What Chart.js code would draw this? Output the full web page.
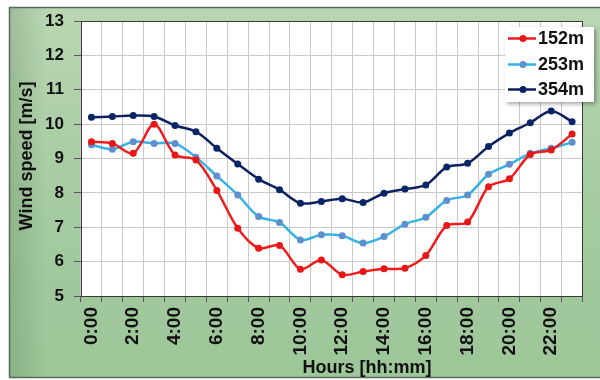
<!DOCTYPE html>
<html>
<head>
<meta charset="utf-8">
<script src="https://cdn.jsdelivr.net/npm/chart.js@4/dist/chart.umd.min.js"></script>
<style>
  html, body { margin: 0; padding: 0; background: #ffffff; }
  #wrap { width: 600px; height: 380px; }
</style>
</head>
<body>
<div id="wrap"><canvas id="c" width="600" height="380"></canvas></div>
<script>
// Hourly categories (every second one is labelled on the axis)
const hourLabels = ['0:00','1:00','2:00','3:00','4:00','5:00','6:00','7:00','8:00','9:00','10:00','11:00',
                    '12:00','13:00','14:00','15:00','16:00','17:00','18:00','19:00','20:00','21:00','22:00','23:00'];

// Mean wind speed [m/s] per hour at three measurement heights
const speed152 = [9.49, 9.44, 9.15, 10.00, 9.10, 8.96, 8.07, 6.97, 6.39, 6.47, 5.78, 6.05,
                  5.62, 5.71, 5.79, 5.81, 6.18, 7.05, 7.15, 8.18, 8.41, 9.12, 9.25, 9.71];
const speed253 = [9.40, 9.27, 9.49, 9.44, 9.44, 9.04, 8.49, 7.94, 7.31, 7.14, 6.63, 6.78,
                  6.75, 6.54, 6.73, 7.09, 7.29, 7.78, 7.94, 8.54, 8.83, 9.15, 9.30, 9.47];
const speed354 = [10.20, 10.22, 10.25, 10.22, 9.96, 9.78, 9.30, 8.84, 8.40, 8.09, 7.70, 7.75,
                  7.83, 7.72, 7.99, 8.11, 8.23, 8.75, 8.86, 9.35, 9.74, 10.04, 10.38, 10.07];

const seriesNames = ['152m', '253m', '354m'];
const yTitle = 'Wind speed [m/s]';
const xTitle = 'Hours [hh:mm]';

const FONT = "'Liberation Sans', Arial, Helvetica, sans-serif";

// Panel background, plot area, frame, axis titles and legend box
const decorations = {
  id: 'decorations',
  beforeDraw(chart) {
    const ctx = chart.ctx;
    const a = chart.chartArea;
    ctx.save();
    ctx.fillStyle = '#ffffff';
    ctx.fillRect(0, 0, chart.width, chart.height);
    const g = ctx.createLinearGradient(0, 7, 0, 378);
    g.addColorStop(0, '#b9d7b2');
    g.addColorStop(0.5, '#a6cba1');
    g.addColorStop(1, '#9dc699');
    ctx.fillStyle = g;
    ctx.fillRect(9, 7, chart.width - 9, 371);
    const g2 = ctx.createLinearGradient(9, 0, 45, 0);
    g2.addColorStop(0, 'rgba(60,100,60,0.22)');
    g2.addColorStop(1, 'rgba(60,100,60,0)');
    ctx.fillStyle = g2;
    ctx.fillRect(9, 7, 36, 371);
    ctx.strokeStyle = '#5a6a5a';
    ctx.lineWidth = 1.5;
    ctx.strokeRect(9.5, 7.5, chart.width, 370);
    ctx.fillStyle = '#ffffff';
    ctx.fillRect(a.left, a.top, a.right - a.left, a.bottom - a.top);
    ctx.restore();
  },
  afterDraw(chart) {
    const ctx = chart.ctx;
    const a = chart.chartArea;
    ctx.save();
    // plot frame
    ctx.strokeStyle = '#3a3a3a';
    ctx.lineWidth = 1;
    ctx.strokeRect(Math.round(a.left) + 0.5, Math.round(a.top) + 0.5,
                   Math.round(a.right - a.left) - 1, Math.round(a.bottom - a.top));

    // axis titles
    ctx.fillStyle = '#111111';
    ctx.font = 'bold 18px ' + FONT;
    ctx.textAlign = 'center';
    ctx.textBaseline = 'middle';
    ctx.fillText(xTitle, 367, 368);
    ctx.translate(27, 156);
    ctx.rotate(-Math.PI / 2);
    ctx.fillText(yTitle, 0, 0);
    ctx.setTransform(1, 0, 0, 1, 0, 0);

    // legend
    const bx = 505, by = 27, bw = 89, bh = 75;
    ctx.shadowColor = 'rgba(0,0,0,0.35)';
    ctx.shadowBlur = 4;
    ctx.shadowOffsetX = 2;
    ctx.shadowOffsetY = 2;
    ctx.fillStyle = '#ffffff';
    ctx.fillRect(bx, by, bw, bh);
    ctx.shadowColor = 'transparent';
    const rows = [38.5, 64.5, 89.5];
    chart.data.datasets.forEach((ds, i) => {
      const y = rows[i];
      ctx.strokeStyle = ds.borderColor;
      ctx.lineWidth = 2.5;
      ctx.beginPath();
      ctx.moveTo(508, y);
      ctx.lineTo(536, y);
      ctx.stroke();
      ctx.fillStyle = ds.pointBackgroundColor;
      ctx.beginPath();
      ctx.arc(523, y, 3.5, 0, Math.PI * 2);
      ctx.fill();
      ctx.fillStyle = '#111111';
      ctx.font = 'bold 18px ' + FONT;
      ctx.textAlign = 'left';
      ctx.textBaseline = 'middle';
      ctx.fillText(ds.label, 538, y + 1);
    });
    ctx.restore();
  }
};

const makeSeries = (label, data, line, marker) => ({
  label, data,
  borderColor: line,
  backgroundColor: line,
  pointBackgroundColor: marker,
  pointBorderColor: marker,
  pointRadius: 3.5,
  pointBorderWidth: 0,
  borderWidth: 2.5,
  tension: 0.3,
  fill: false
});

new Chart(document.getElementById('c'), {
  type: 'line',
  data: {
    labels: hourLabels,
    datasets: [
      makeSeries(seriesNames[0], speed152, '#ee1c1c', '#e81616'),
      makeSeries(seriesNames[1], speed253, '#35b3e4', '#5f8fcf'),
      makeSeries(seriesNames[2], speed354, '#0e205e', '#0a2468')
    ]
  },
  options: {
    responsive: false,
    devicePixelRatio: 1,
    animation: false,
    layout: { padding: { top: 21, right: 4, left: 0, bottom: 0 } },
    plugins: {
      legend: { display: false },
      tooltip: { enabled: false }
    },
    scales: {
      x: {
        type: 'category',
        offset: true,
        grid: { color: '#c9c9c9', tickColor: '#555555', tickLength: 6, offset: true, lineWidth: 1 },
        border: { display: false },
        ticks: {
          autoSkip: false,
          minRotation: 90,
          maxRotation: 90,
          padding: 5,
          color: '#111111',
          font: { family: FONT, size: 19, weight: 'bold' },
          callback: (v, i) => (i % 2 === 0 ? hourLabels[i] : '')
        },
        afterFit(scale) { scale.height = 84; }
      },
      y: {
        min: 5,
        max: 13,
        grid: { color: '#c9c9c9', tickColor: '#555555', tickLength: 7, lineWidth: 1 },
        border: { display: false },
        ticks: {
          stepSize: 1,
          padding: 10,
          color: '#111111',
          font: { family: FONT, size: 17, weight: 'bold' }
        },
        afterFit(scale) { scale.width = 81; }
      }
    }
  },
  plugins: [decorations]
});
</script>
</body>
</html>
